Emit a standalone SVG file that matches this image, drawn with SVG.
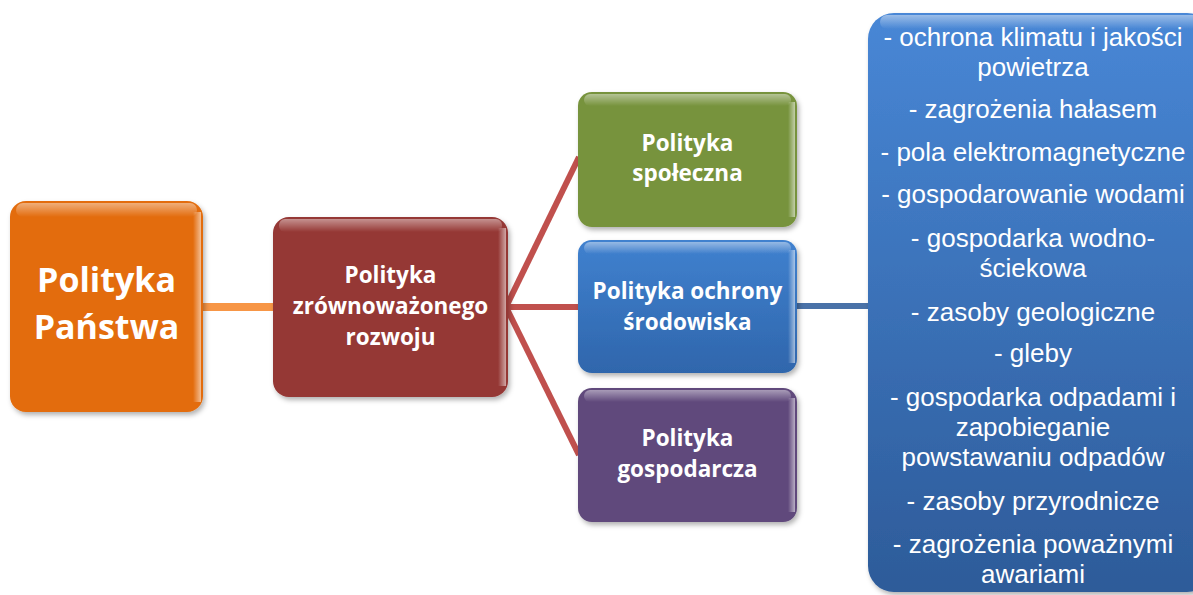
<svg xmlns="http://www.w3.org/2000/svg" width="1193" height="595" viewBox="0 0 1193 595">
<defs>
<linearGradient id="gloss" x1="0" y1="0" x2="0" y2="1">
<stop offset="0" stop-color="#fff" stop-opacity="0.45"/>
<stop offset="1" stop-color="#fff" stop-opacity="0"/>
</linearGradient>
<linearGradient id="edgeR" x1="0" y1="0" x2="1" y2="0">
<stop offset="0" stop-color="#fff" stop-opacity="0"/>
<stop offset="1" stop-color="#fff" stop-opacity="0.55"/>
</linearGradient>
<linearGradient id="bigFill" x1="0" y1="0" x2="0" y2="1">
<stop offset="0" stop-color="#4887D6"/>
<stop offset="1" stop-color="#2D5B99"/>
</linearGradient>
<linearGradient id="blueFill" x1="0" y1="0" x2="0" y2="1">
<stop offset="0" stop-color="#4081CF"/>
<stop offset="1" stop-color="#2F66AC"/>
</linearGradient>
<filter id="sh" x="-10%" y="-10%" width="125%" height="125%">
<feDropShadow dx="2" dy="3" stdDeviation="2.5" flood-color="#000" flood-opacity="0.3"/>
</filter>
</defs>
<style>
.t{font-family:"Open Sans","DejaVu Sans",sans-serif;font-weight:bold;fill:#fff;text-anchor:middle}
.l{font-family:"Liberation Sans",Arial,sans-serif;font-size:26px;fill:#fff;text-anchor:middle}
.conn{fill:none;stroke-linecap:butt}
.hl{fill:url(#gloss)}
.er{fill:url(#edgeR)}
</style>
<rect width="1193" height="595" fill="#fff"/>

<g id="connectors">
<line class="conn" x1="203" y1="307" x2="274" y2="307" stroke="#F79646" stroke-width="8"/>
<line class="conn" x1="506" y1="307" x2="579" y2="157" stroke="#C0504D" stroke-width="6"/>
<line class="conn" x1="506" y1="307" x2="579" y2="307" stroke="#C0504D" stroke-width="6"/>
<line class="conn" x1="506" y1="307" x2="579" y2="455" stroke="#C0504D" stroke-width="6"/>
<line class="conn" x1="796" y1="306" x2="869" y2="306" stroke="#4A72A8" stroke-width="6"/>
</g>

<g id="node-panstwa">
<rect x="10" y="201" width="193" height="211" rx="16" fill="#E36C0A" filter="url(#sh)"/>
<rect x="16" y="203" width="181" height="14" rx="7" class="hl"/>
<rect x="193" y="212" width="8" height="190" class="er"/>
<text class="t" font-size="34" x="106.5" y="292">Polityka</text>
<text class="t" font-size="34" x="106.5" y="339">Państwa</text>
</g>

<g id="node-zrownowazony">
<rect x="273" y="217" width="235" height="180" rx="16" fill="#953735" filter="url(#sh)"/>
<rect x="279" y="219" width="223" height="13" rx="6" class="hl"/>
<rect x="498" y="228" width="8" height="158" class="er"/>
<text class="t" font-size="22.5" x="390.5" y="283">Polityka</text>
<text class="t" font-size="22.5" x="390.5" y="314">zrównoważonego</text>
<text class="t" font-size="22.5" x="390.5" y="345">rozwoju</text>
</g>

<g id="node-spoleczna">
<rect x="578" y="92" width="219" height="135" rx="14" fill="#77933C" filter="url(#sh)"/>
<rect x="584" y="94" width="207" height="12" rx="6" class="hl"/>
<rect x="788" y="102" width="7" height="115" class="er"/>
<text class="t" font-size="22.5" x="687.5" y="151">Polityka</text>
<text class="t" font-size="22.5" x="687.5" y="181">społeczna</text>
</g>

<g id="node-ochrona">
<rect x="578" y="240" width="219" height="133" rx="14" fill="url(#blueFill)" filter="url(#sh)"/>
<rect x="584" y="242" width="207" height="12" rx="6" class="hl"/>
<rect x="788" y="250" width="7" height="113" class="er"/>
<text class="t" font-size="22.5" x="687.5" y="299">Polityka ochrony</text>
<text class="t" font-size="22.5" x="687.5" y="330">środowiska</text>
</g>

<g id="node-gospodarcza">
<rect x="578" y="388" width="219" height="134" rx="14" fill="#604A7B" filter="url(#sh)"/>
<rect x="584" y="390" width="207" height="12" rx="6" class="hl"/>
<rect x="788" y="398" width="7" height="114" class="er"/>
<text class="t" font-size="22.5" x="687.5" y="446">Polityka</text>
<text class="t" font-size="22.5" x="687.5" y="477">gospodarcza</text>
</g>

<g id="node-lista">
<rect x="868" y="13" width="345" height="579" rx="26" fill="url(#bigFill)" filter="url(#sh)"/>
<rect x="880" y="15" width="330" height="14" rx="7" class="hl"/>
<text class="l" x="1033" y="46">- ochrona klimatu i jakości</text>
<text class="l" x="1033" y="76">powietrza</text>
<text class="l" x="1033" y="118">- zagrożenia hałasem</text>
<text class="l" x="1033" y="161">- pola elektromagnetyczne</text>
<text class="l" x="1033" y="203">- gospodarowanie wodami</text>
<text class="l" x="1033" y="247">- gospodarka wodno-</text>
<text class="l" x="1033" y="277">ściekowa</text>
<text class="l" x="1033" y="321">- zasoby geologiczne</text>
<text class="l" x="1033" y="362">- gleby</text>
<text class="l" x="1033" y="406">- gospodarka odpadami i</text>
<text class="l" x="1033" y="436">zapobieganie</text>
<text class="l" x="1033" y="466">powstawaniu odpadów</text>
<text class="l" x="1033" y="510">- zasoby przyrodnicze</text>
<text class="l" x="1033" y="553">- zagrożenia poważnymi</text>
<text class="l" x="1033" y="583">awariami</text>
</g>
</svg>
